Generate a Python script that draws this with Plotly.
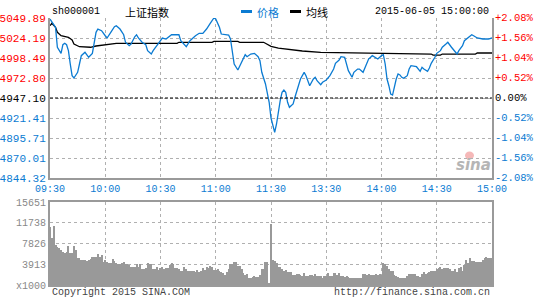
import plotly.graph_objects as go

# ---------------- data ----------------
prev_close = 4947.10
price_ticks = [5049.89, 5024.19, 4998.49, 4972.80, 4947.10, 4921.41, 4895.71, 4870.01, 4844.32]
pct_labels = ["+2.08%", "+1.56%", "+1.04%", "+0.52%", "0.00%", "-0.52%", "-1.04%", "-1.56%", "-2.08%"]
vol_ticks = [0, 3913, 7826, 11738, 15651]
vol_tick_text = ["x1000", "3913", "7826", "11738", "15651"]
time_ticks = [0, 30, 60, 90, 120, 150, 180, 210, 240]
time_labels = ["09:30", "10:00", "10:30", "11:00", "11:30", "13:30", "14:00", "14:30", "15:00"]

# minutes since open (11:30 and 13:00 share index 120)
price_minute = [0, 3, 4, 6, 7, 8, 9, 10, 11, 12, 13, 15, 16, 17, 19, 20, 21, 23, 24, 25, 26, 28, 30, 31, 33,
                35, 36, 38, 40, 41, 43, 44, 46, 47, 48, 50, 52, 53, 55, 56, 58, 60, 61, 63, 66, 70, 71, 74,
                76, 79, 81, 83, 85, 87, 89, 90, 92, 93, 95, 97, 98, 99, 100, 102, 103, 105, 106, 107, 109,
                111, 113, 114, 115, 117, 118, 119, 120, 122, 123, 124, 125, 126, 127, 128, 129, 130, 132,
                133, 134, 135, 136, 138, 139, 141, 142, 143, 144, 145, 147, 148, 150, 152, 154, 155, 157,
                158, 160, 161, 162, 164, 165, 167, 168, 170, 171, 173, 175, 176, 178, 180, 181, 182, 183,
                184, 185, 186, 187, 188, 189, 190, 191, 192, 194, 195, 196, 198, 199, 201, 202, 203, 205,
                206, 207, 209, 210, 212, 213, 215, 216, 218, 220, 221, 222, 224, 225, 227, 229, 230, 232,
                235, 238, 240]
price_value = [5048.6, 5037.9, 5012.3, 5004.5, 5015.6, 5017.4, 5015.6, 5007.9, 4990.8, 4975.8, 4972.8,
               4980.1, 4990.8, 5001.5, 5005.8, 5002.7, 4999.4, 5004.5, 5020.7, 5031.5, 5035.7, 5033.6,
               5027.1, 5024.2, 5031.5, 5038.7, 5040.0, 5035.7, 5028.4, 5018.7, 5014.3, 5016.5, 5025.8,
               5028.4, 5024.2, 5018.7, 5015.6, 5007.9, 5003.6, 5007.9, 5014.3, 5021.6, 5024.2, 5022.9,
               5028.4, 5028.4, 5020.7, 5013.0, 5020.7, 5027.1, 5030.2, 5030.2, 5035.7, 5043.1, 5049.9,
               5048.6, 5037.9, 5029.3, 5028.4, 5028.0, 5022.9, 5007.9, 4990.8, 4983.1, 4988.6, 4997.2,
               5002.7, 5000.2, 5003.6, 5004.5, 5000.2, 4995.0, 4980.1, 4965.1, 4952.2, 4941.6, 4921.4,
               4903.0, 4913.7, 4930.8, 4943.6, 4954.4, 4957.4, 4954.4, 4941.6, 4935.2, 4939.4, 4948.0,
               4956.5, 4965.1, 4971.5, 4980.1, 4975.8, 4962.9, 4967.3, 4971.5, 4973.7, 4969.3, 4964.2,
               4967.3, 4970.2, 4975.8, 4984.3, 4991.7, 4995.9, 5000.2, 4999.4, 4990.8, 4982.2, 4973.7,
               4980.1, 4984.3, 4984.3, 4980.1, 4986.5, 4997.2, 5001.5, 5000.2, 4997.2, 5001.5, 5002.7,
               4990.8, 4971.5, 4962.9, 4952.2, 4950.9, 4962.9, 4971.5, 4977.9, 4976.7, 4973.7, 4972.4,
               4975.8, 4984.3, 4988.6, 4987.3, 4987.3, 4981.4, 4986.5, 4984.3, 4981.4, 4985.6, 4991.7,
               4999.4, 5004.5, 5007.9, 5012.3, 5016.5, 5018.7, 5012.3, 5005.8, 5003.6, 5007.9, 5014.3,
               5020.7, 5025.1, 5028.4, 5027.1, 5024.2, 5022.9, 5022.9, 5024.2]

avg_minute = [0, 1, 3, 4, 6, 10, 12, 13, 16, 19, 22, 25, 30, 36, 69, 70, 88, 89, 102, 103, 116, 118, 120,
              124, 131, 137, 147, 169, 178, 185, 186, 207, 208, 212, 213, 231, 232, 240]
avg_value = [5040.0, 5043.1, 5037.9, 5031.5, 5027.1, 5025.1, 5021.6, 5016.5, 5013.0, 5012.3, 5012.3,
             5013.9, 5015.2, 5017.4, 5017.4, 5018.7, 5018.7, 5019.9, 5019.9, 5018.7, 5018.7, 5016.5,
             5013.5, 5011.3, 5008.8, 5007.5, 5005.8, 5004.9, 5004.5, 5004.5, 5003.6, 5003.6, 5002.3,
             5002.3, 5003.6, 5003.6, 5004.9, 5004.9]

volume = [11001, 8927, 11190, 7544, 7230, 6915, 6601, 6161, 5972, 6161, 7418, 5972, 5972,
          7418, 6601, 5029, 5155, 4715, 4715, 4715, 4589, 4715, 4840, 5344, 5344, 5344,
          5784, 5344, 5658, 4401, 4715, 4401, 4086, 4086, 4904, 4526, 4086, 3897, 3897,
          4086, 4401, 3897, 3897, 3772, 3458, 3458, 3458, 3897, 3458, 3897, 3018, 3018,
          3269, 4212, 3897, 3897, 3018, 3018, 3458, 2829, 3143, 3458, 3018, 3143, 3143,
          3772, 4212, 3897, 3269, 3143, 3018, 2640, 2640, 3458, 3018, 2640, 2640, 2640,
          2640, 2515, 2829, 2389, 2640, 3143, 2829, 3458, 3143, 3646, 3458, 2829, 2829,
          3018, 2640, 2389, 2200, 1886, 2515, 3018, 3897, 3897, 4275, 4275, 3646, 3646,
          3018, 2200, 1886, 2012, 1383, 1383, 1572, 1761, 1572, 1572, 1886, 3018, 3018,
          4401, 4401, 314,
          11443,
          4715, 4526, 4086, 3458, 3458, 3018, 2640, 2829, 2515, 2389, 2389,
          1886, 1886, 2012, 2012, 1886, 1761, 2200, 1761, 1761, 1886, 1886,
          1761, 2075, 1761, 1761, 1761, 1383, 1761, 1761, 2200, 1761, 1761,
          2200, 2200, 1886, 2200, 1761, 1761, 1572, 1761, 1572, 1383, 1383,
          1383, 1383, 1257, 1257, 1257, 2012, 2012, 1886, 2012, 1886, 1886,
          1886, 2012, 1886, 2012, 1886, 4086, 3897, 3646, 3018, 2640, 2640,
          1886, 1761, 1572, 1383, 1383, 1383, 1383, 1698, 2012, 2012, 2012,
          2012, 1698, 1698, 1572, 2012, 2389, 2012, 2200, 2389, 2640, 2640,
          2640, 3018, 3269, 3458, 3018, 3269, 3269, 3269, 3018, 2640, 2640,
          3018, 2389, 3143, 3458, 2640, 3772, 4715, 4086, 5029, 4526, 4526,
          4275, 4275, 4275, 4275, 4715, 5155, 5344, 5155, 5155, 5155]

# ---------------- style ----------------
BLUE = "#0b7bd2"
RED = "#ff0000"
GRID = "#b0b0b0"
AXIS = "#9a9a9a"
MONO = "Liberation Mono, DejaVu Sans Mono, monospace"
CJK = "Noto Sans CJK SC"

W, H = 545, 300
ML, MR, MT, MB = 50, 53, 18, 15
PH = H - MT - MB


def py(y):  # pixel row -> paper y
    return (H - MB - y) / PH


def px(x):  # pixel col -> paper x
    return (x - ML) / (W - ML - MR)


fig = go.Figure()
fig.add_trace(go.Bar(x=list(range(len(volume))), y=volume, width=0.55,
                     marker=dict(color="#999999", line=dict(width=0)),
                     xaxis="x2", yaxis="y2", hoverinfo="skip"))
fig.add_trace(go.Scatter(x=avg_minute, y=avg_value, mode="lines",
                         line=dict(color="#000000", width=1.3), xaxis="x", yaxis="y"))
fig.add_trace(go.Scatter(x=price_minute, y=price_value, mode="lines",
                         line=dict(color=BLUE, width=1.3), xaxis="x", yaxis="y"))


def lab_color(v):
    if v > prev_close + 0.001:
        return RED
    if v < prev_close - 0.001:
        return BLUE
    return "#000000"


price_text = [f'<span style="color:{lab_color(v)}">{v:.2f}</span>' for v in price_ticks]

fig.update_layout(
    width=W, height=H, margin=dict(l=ML, r=MR, t=MT, b=MB, autoexpand=False),
    paper_bgcolor="white", plot_bgcolor="white", showlegend=False,
    bargap=0,
    xaxis=dict(domain=[0, 1], range=[0, 240], anchor="y", automargin=False,
               tickmode="array", tickvals=time_ticks, ticktext=time_labels,
               tickfont=dict(family=MONO, size=10, color=BLUE),
               showgrid=True, gridcolor=GRID, griddash="dot", gridwidth=1,
               showline=True, linecolor=AXIS, linewidth=2, ticks="", zeroline=False),
    yaxis=dict(domain=[py(178), 1], range=[price_ticks[-1], price_ticks[0]], anchor="x", automargin=False,
               tickmode="array", tickvals=price_ticks, ticktext=price_text,
               tickfont=dict(family=MONO, size=11),
               showgrid=True, gridcolor=GRID, griddash="dot", gridwidth=1,
               showline=True, mirror=True, linecolor=AXIS, linewidth=2, ticks="", zeroline=False),
    xaxis2=dict(domain=[0, 1], range=[0, 240], anchor="y2", automargin=False,
                tickmode="array", tickvals=time_ticks, showticklabels=False,
                showgrid=True, gridcolor=GRID, griddash="dot", gridwidth=1,
                showline=True, mirror=True, linecolor=AXIS, linewidth=2, ticks="", zeroline=False),
    yaxis2=dict(domain=[0, py(202)], range=[0, vol_ticks[-1]], anchor="x2", automargin=False,
                tickmode="array", tickvals=vol_ticks, ticktext=vol_tick_text,
                tickfont=dict(family=MONO, size=10, color="#888888"),
                showgrid=True, gridcolor=GRID, griddash="dot", gridwidth=1,
                showline=True, mirror=True, linecolor=AXIS, linewidth=2, ticks="", zeroline=False),
)

# previous close dashed line
fig.add_shape(type="line", xref="x", yref="y", x0=0, x1=240, y0=prev_close, y1=prev_close,
              line=dict(color="#000000", width=1, dash="3px,2px"))

ann = []
for v, t in zip(price_ticks, pct_labels):
    c = RED if t.startswith("+") else (BLUE if t.startswith("-") else "#000000")
    ann.append(dict(xref="paper", yref="y", x=1, y=v, xanchor="left", yanchor="middle", xshift=1,
                    text=t, showarrow=False, font=dict(family=MONO, size=10.5, color=c)))

ty = py(11.5)
ann += [
    dict(xref="paper", yref="paper", x=px(50), y=ty, xanchor="left", yanchor="middle",
         text="sh000001", showarrow=False, font=dict(family=MONO, size=10, color="#000")),
    dict(xref="paper", yref="paper", x=px(123), y=ty, xanchor="left", yanchor="middle",
         text="上证指数", showarrow=False, font=dict(family=CJK, size=11, color="#000")),
    dict(xref="paper", yref="paper", x=px(255), y=ty, xanchor="left", yanchor="middle",
         text="价格", showarrow=False, font=dict(family=CJK, size=11, color=BLUE)),
    dict(xref="paper", yref="paper", x=px(304), y=ty, xanchor="left", yanchor="middle",
         text="均线", showarrow=False, font=dict(family=CJK, size=11, color="#000")),
    dict(xref="paper", yref="paper", x=px(491), y=ty, xanchor="right", yanchor="middle",
         text="2015-06-05 15:00:00", showarrow=False, font=dict(family=MONO, size=10, color="#000")),
    dict(xref="paper", yref="paper", x=px(50), y=py(292), xanchor="left", yanchor="middle",
         text="Copyright 2015 SINA.COM", showarrow=False, font=dict(family=MONO, size=10, color="#444")),
    dict(xref="paper", yref="paper", x=px(492), y=py(292), xanchor="right", yanchor="middle",
         text="http://finance.sina.com.cn", showarrow=False, font=dict(family=MONO, size=10, color="#444")),
    dict(xref="paper", yref="paper", x=px(473), y=py(165), xanchor="center", yanchor="middle",
         text="<b><i>sina</i></b>", showarrow=False, font=dict(family="DejaVu Sans", size=15, color="#b5b5b5")),
]
fig.update_layout(annotations=ann)

# sina logo eye (decorative)
fig.add_shape(type="circle", xref="paper", yref="paper", x0=px(465), x1=px(474), y0=py(159.5), y1=py(151.5),
              fillcolor="#f5b8b8", line=dict(width=0), layer="below")

# legend swatches
fig.add_shape(type="line", xref="paper", yref="paper", x0=px(241), x1=px(252), y0=ty, y1=ty,
              line=dict(color=BLUE, width=3))
fig.add_shape(type="line", xref="paper", yref="paper", x0=px(290), x1=px(301), y0=ty, y1=ty,
              line=dict(color="#000", width=3))

fig.write_html("out.html")
